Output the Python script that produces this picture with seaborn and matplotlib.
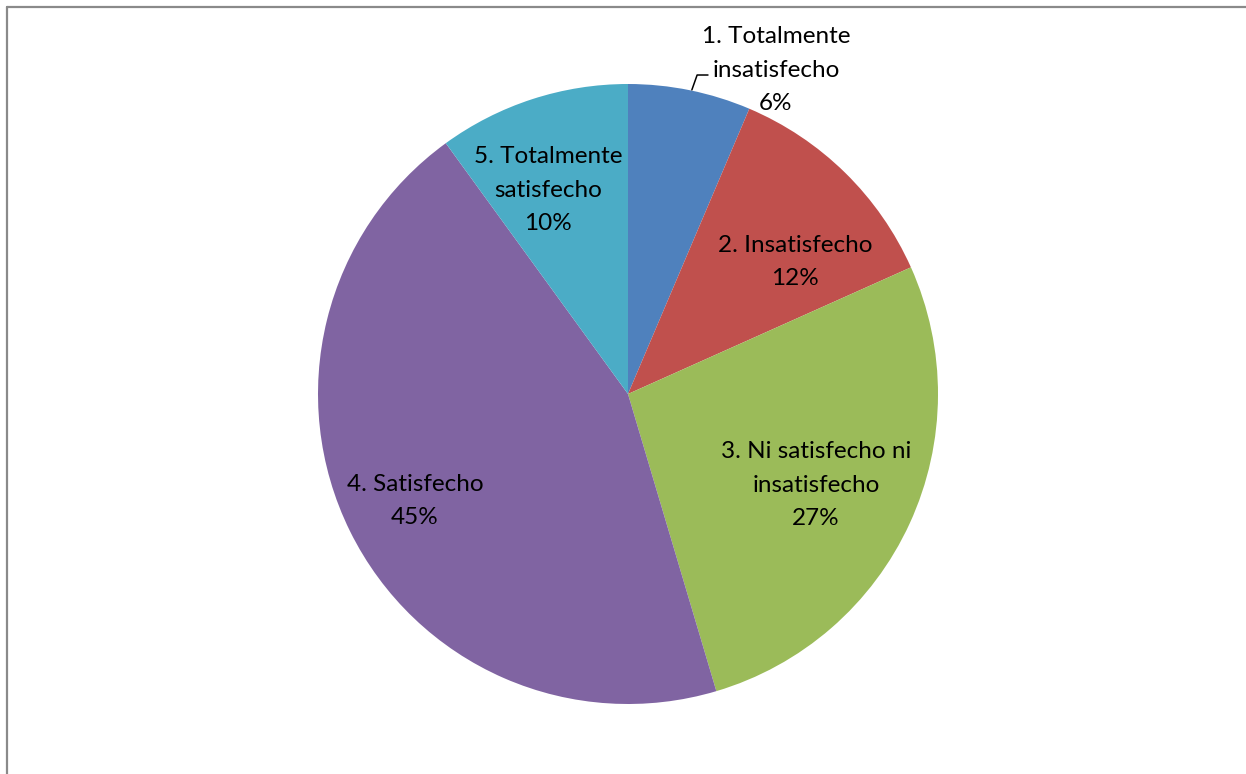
import matplotlib
matplotlib.use("Agg")
import matplotlib.pyplot as plt
import seaborn as sns
from matplotlib.lines import Line2D

# Data
categories = ["1. Totalmente\ninsatisfecho", "2. Insatisfecho",
              "3. Ni satisfecho ni\ninsatisfecho", "4. Satisfecho",
              "5. Totalmente\nsatisfecho"]
values = [6.4, 11.9, 27.1, 44.6, 10.0]
colors = ["#4F81BD", "#C0504D", "#9BBB59", "#8064A2", "#4BACC6"]

# label centres in pie units (radius = 1)
label_pos = [(0.477, 1.045), (0.539, 0.427), (0.606, -0.294),
             (-0.687, -0.344), (-0.258, 0.658)]

sns.set_theme(style="white")
plt.rcParams["font.family"] = ["Lato", "DejaVu Sans"]

W, H = 1246, 774
fig = plt.figure(figsize=(W / 100, H / 100), dpi=100)
fig.patch.set_facecolor("white")

# chart border (only top and left visible in the crop)
fig.add_artist(Line2D([7 / W, 7 / W], [0, 1 - 7 / H], transform=fig.transFigure,
                      color="#8a8a8a", lw=1.6))
fig.add_artist(Line2D([7 / W, 1], [1 - 7 / H, 1 - 7 / H], transform=fig.transFigure,
                      color="#8a8a8a", lw=1.6))

cx, cy, r = 628, 394, 310
ax = fig.add_axes([(cx - r) / W, (H - cy - r) / H, 2 * r / W, 2 * r / H])
ax.pie(values, colors=colors, startangle=90, counterclock=False, radius=1,
       wedgeprops=dict(linewidth=0))
ax.set_xlim(-1, 1)
ax.set_ylim(-1, 1)
ax.set_aspect("equal")
ax.axis("off")

total = sum(values)
for cat, v, (x, y) in zip(categories, values, label_pos):
    ax.text(x, y, f"{cat}\n{v / total * 100:.0f}%", ha="center", va="center",
            fontsize=17.5, linespacing=1.72, color="black", clip_on=False)

# leader line for the first label
ax.plot([0.206, 0.223, 0.258], [0.981, 1.029, 1.029], color="black", lw=1.1,
        clip_on=False)

fig.savefig("out.png", dpi=100)
